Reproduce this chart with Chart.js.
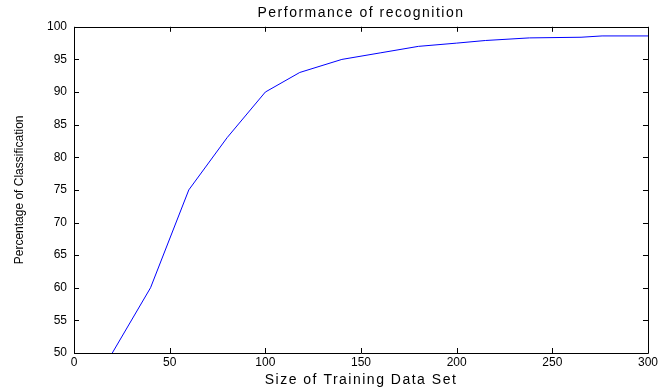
<!DOCTYPE html>
<html>
<head>
<meta charset="utf-8">
<script src="https://cdn.jsdelivr.net/npm/chart.js@4.4.1/dist/chart.umd.min.js"></script>
<style>
  html, body { margin: 0; padding: 0; background: #fff; }
  #wrap { width: 660px; height: 389px; }
</style>
</head>
<body>
<div id="wrap"><canvas id="perfChart" width="660" height="389"></canvas></div>
<script>
// values
const trainSize = [20, 40, 60, 80, 100, 118, 140, 160, 180, 200, 215, 238, 265, 276, 300];
const accuracy  = [50, 60, 75, 83, 90, 93, 95, 96, 97, 97.5, 97.9, 98.3, 98.4, 98.6, 98.6];
const xTicks = [0, 50, 100, 150, 200, 250, 300];
const yTicks = [50, 55, 60, 65, 70, 75, 80, 85, 90, 95, 100];

const fontFam = '"Liberation Sans", Arial, sans-serif';

// wrap a draw function so its text gets wider letter spacing (matlab export look)
// shiftX lets the main title sit over the plot box instead of the whole canvas
function spaced(fn, gap, shiftX) {
  return function() {
    const c = this.ctx;
    const prev = c.letterSpacing;
    c.save();
    if (shiftX) c.translate(shiftX(), 0);
    c.letterSpacing = gap;
    fn.apply(this, arguments);
    c.letterSpacing = prev;
    c.restore();
  };
}

// matlab style box with ticks pointing inward
const boxTicks = {
  id: 'boxTicks',
  afterLayout(chart) {
    const tb = chart.titleBlock;
    if (tb && !tb._spaced) {
      tb.draw = spaced(tb.draw, '1.5px', () => {
        const a = chart.chartArea;
        return (a.left + a.right) / 2 - (tb.left + tb.right) / 2;
      });
      tb._spaced = true;
    }
    const xs = chart.scales.x;
    if (!xs._spaced) {
      xs.drawTitle = spaced(xs.drawTitle, '1.5px');
      xs._spaced = true;
    }
  },
  afterDraw(chart) {
    const ctx = chart.ctx, a = chart.chartArea;
    const xs = chart.scales.x, ys = chart.scales.y;
    const len = 5;
    ctx.save();
    ctx.strokeStyle = '#000';
    ctx.lineWidth = 1;
    ctx.beginPath();
    ctx.rect(Math.round(a.left) + 0.5, Math.round(a.top) + 0.5,
             Math.round(a.right - a.left), Math.round(a.bottom - a.top));
    xTicks.forEach(v => {
      const px = Math.round(xs.getPixelForValue(v)) + 0.5;
      ctx.moveTo(px, a.bottom); ctx.lineTo(px, a.bottom - len);
      ctx.moveTo(px, a.top); ctx.lineTo(px, a.top + len);
    });
    yTicks.forEach(v => {
      const py = Math.round(ys.getPixelForValue(v)) + 0.5;
      ctx.moveTo(a.left, py); ctx.lineTo(a.left + len, py);
      ctx.moveTo(a.right, py); ctx.lineTo(a.right - len, py);
    });
    ctx.stroke();
    ctx.restore();
  }
};

new Chart(document.getElementById('perfChart').getContext('2d'), {
  type: 'line',
  data: {
    datasets: [{
      data: trainSize.map((x, i) => ({ x: x, y: accuracy[i] })),
      borderColor: '#0000ff',
      borderWidth: 1,
      pointRadius: 0,
      tension: 0,
      fill: false
    }]
  },
  options: {
    responsive: false,
    animation: false,
    layout: { padding: { top: 0, right: 11, bottom: 0, left: 0 } },
    plugins: {
      legend: { display: false },
      tooltip: { enabled: false },
      title: {
        display: true,
        text: 'Performance of recognition',
        color: '#000',
        font: { family: fontFam, size: 14, weight: 'normal' },
        padding: { top: 5, bottom: 5 }
      }
    },
    scales: {
      x: {
        type: 'linear',
        min: 0, max: 300,
        afterBuildTicks: s => { s.ticks = xTicks.map(v => ({ value: v })); },
        afterFit: s => { s.height = 36; },
        grid: { display: false, drawTicks: false },
        border: { display: false },
        ticks: { color: '#000', padding: 2, maxRotation: 0, font: { family: fontFam, size: 12 } },
        title: {
          display: true, text: 'Size of Training Data Set', color: '#000',
          font: { family: fontFam, size: 14 }, padding: { top: 0, bottom: 0 }
        }
      },
      y: {
        min: 50, max: 100,
        afterBuildTicks: s => { s.ticks = yTicks.map(v => ({ value: v })); },
        afterFit: s => { s.width = 74; },
        grid: { display: false, drawTicks: false },
        border: { display: false },
        ticks: { color: '#000', padding: 7, font: { family: fontFam, size: 12 } },
        title: {
          display: true, text: 'Percentage of Classification', color: '#000',
          font: { family: fontFam, size: 12 }, padding: { top: 12, bottom: 0 }
        }
      }
    }
  },
  plugins: [boxTicks]
});
</script>
</body>
</html>
